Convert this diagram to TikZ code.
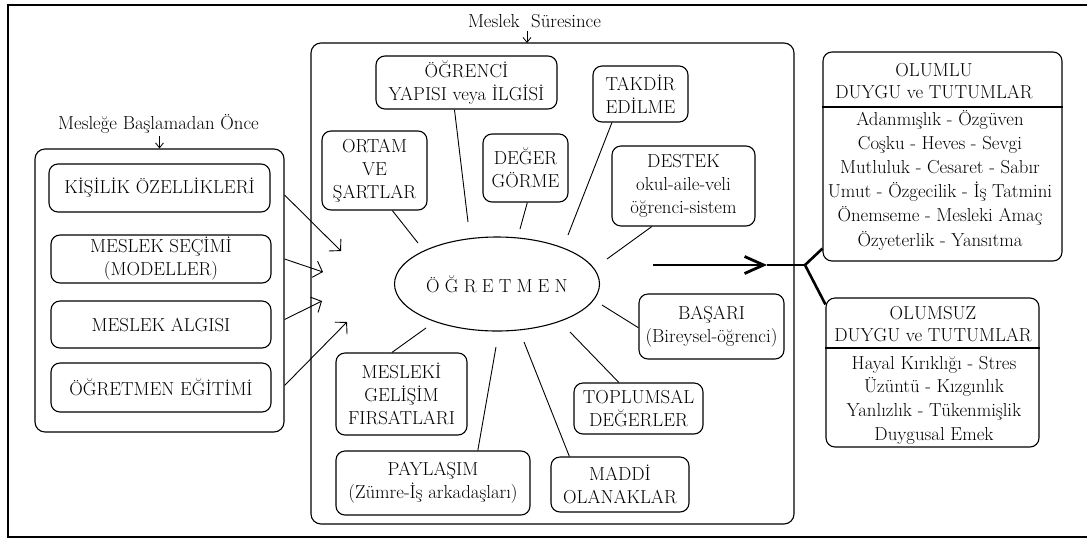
\documentclass[tikz,border=0pt]{standalone}
\usetikzlibrary{arrows.meta,calc,shapes.geometric}
\newcommand\ls{\hspace{5.2pt}}
\begin{document}
\begin{tikzpicture}[x=1pt,y=-1pt,
  every node/.style={font=\fontsize{18.8}{23}\selectfont},
  card/.style={draw,line width=1.1pt,rounded corners=9pt,align=center,inner sep=0pt},
  group/.style={draw,line width=1.1pt,rounded corners=10pt,inner sep=0pt},
  spoke/.style={line width=0.9pt},
  feed/.style={line width=0.9pt,-{Straight Barb[length=8pt,width=17pt]}},
  tag/.style={line width=0.8pt,-{Straight Barb[length=5pt,width=8pt]}},
  bigarrow/.style={line width=2.8pt,-{Straight Barb[length=19pt,width=17pt]}},
  fork/.style={line width=2.6pt},
  rule/.style={line width=1.1pt}]
\useasboundingbox (0,0) rectangle (1087,539);

% outer frame
\draw[line width=2.2pt] (1095,5) -- (8,5) -- (8,537) -- (1095,537);

% --- before the profession ---
\node[anchor=base] (lblA) at (158.5,129) {Mesleğe Başlamadan Önce};
\node[group,minimum width=249pt,minimum height=283pt] (lg) at (159.5,290.5) {};
\node[card,minimum width=221pt,minimum height=48pt] (k1) at (159.5,188) {KİŞİLİK ÖZELLİKLERİ};
\node[card,minimum width=220pt,minimum height=48pt] (k2) at (161,259) {MESLEK SEÇİMİ\\(MODELLER)};
\node[card,minimum width=220pt,minimum height=47pt] (k3) at (161,324.5) {MESLEK ALGISI};
\node[card,minimum width=220pt,minimum height=49pt] (k4) at (161,387.5) {ÖĞRETMEN EĞİTİMİ};
\draw[tag] (lblA.south -| lg.north) -- (lg.north);

% --- during the profession ---
\node[anchor=base] (lblB) at (534.5,27) {Meslek\ \ Süresince};
\node[group,minimum width=483pt,minimum height=481pt] (cg) at (552.5,283.5) {};
\coordinate (cgin) at (527,43);
\draw[tag] (lblB.south -| cgin) -- (cgin);

\node[draw,ellipse,line width=1.1pt,minimum width=205pt,minimum height=94pt,inner sep=0pt] (og) at (497,284)
  {Ö\ls Ğ\ls R\ls E\ls T\ls M\ls E\ls N};

\node[card,minimum width=181pt,minimum height=53pt] (ogr) at (466.5,82.5) {ÖĞRENCİ\\YAPISI veya İLGİSİ};
\node[card,minimum width=95pt,minimum height=56pt] (tak) at (640.5,94) {TAKDİR\\EDİLME};
\node[card,minimum width=105pt,minimum height=79pt] (ort) at (374.5,170.5) {ORTAM\\VE\\ŞARTLAR};
\node[card,minimum width=85pt,minimum height=68pt] (deg) at (525.5,168) {DEĞER\\GÖRME};
\node[card,minimum width=143pt,minimum height=80pt] (des) at (683.5,186) {DESTEK\\okul-aile-veli\\öğrenci-sistem};
\node[card,minimum width=145pt,minimum height=65pt] (bas) at (711.5,326.5) {BAŞARI\\(Bireysel-öğrenci)};
\node[card,minimum width=129pt,minimum height=51pt] (top) at (638.5,408.5) {TOPLUMSAL\\DEĞERLER};
\node[card,minimum width=138pt,minimum height=55pt] (mad) at (620,484.5) {MADDİ\\OLANAKLAR};
\node[card,minimum width=131pt,minimum height=82pt] (mgf) at (401.5,394) {MESLEKİ\\GELİŞİM\\FIRSATLARI};
\node[card,minimum width=194pt,minimum height=64pt] (pay) at (433,483) {PAYLAŞIM\\(Zümre-İş arkadaşları)};

% spoke ends next to the teacher ellipse
\coordinate (eOgr) at (468,222);
\coordinate (eOrt) at (418,243);
\coordinate (eDeg) at (520,229);
\coordinate (eTak) at (568,235);
\coordinate (eDes) at (607,259);
\coordinate (eBas) at (602,305);
\coordinate (eTop) at (570,332);
\coordinate (eMad) at (524,342);
\coordinate (ePay) at (496,347);
\coordinate (eMgf) at (426,328);

\draw[spoke] (eOgr) -- (ogr.-114);
\draw[spoke] (eOrt) -- (ort.-66);
\draw[spoke] (eDeg) -- (deg.-87.5);
\draw[spoke] (eTak) -- (tak.-135.5);
\draw[spoke] (eDes) -- (des.-128.2);
\draw[spoke] (eBas) -- (bas.-179);
\draw[spoke] (eTop) -- (top.127.4);
\draw[spoke] (eMad) -- (mad.151.2);
\draw[spoke] (ePay) -- (pay.36.7);
\draw[spoke] (eMgf) -- (mgf.103);

% arrows from the earlier factors
\coordinate (t1) at (341,251);
\coordinate (t2) at (323,272);
\coordinate (t3) at (322,301);
\coordinate (t4) at (347,322);
\draw[feed] ($(k1.east -| lg.east)+(0,7)$) -- (t1);
\draw[feed] (k2.east -| lg.east) -- (t2);
\draw[feed] ($(k3.east -| lg.east)+(0,-5)$) -- (t3);
\draw[feed] ($(k4.east -| lg.east)+(0,-2)$) -- (t4);

% --- outcomes ---
\node[card,minimum width=239pt,minimum height=209pt] (pos) at (942.5,156.5) {};
\coordinate (posdiv) at (0,107);
\draw[rule] (pos.west |- posdiv) -- (pos.east |- posdiv);
\node[align=center,font=\fontsize{18.8}{22}\selectfont] (posh) at (934,81) {OLUMLU\\DUYGU ve TUTUMLAR};
\node[align=center,font=\fontsize{18.8}{24.2}\selectfont] (posb) at (940,180)
  {Adanmışlık - Özgüven\\Coşku - Heves - Sevgi\\Mutluluk - Cesaret - Sabır\\Umut - Özgecilik - İş Tatmini\\Önemseme - Mesleki Amaç\\Özyeterlik - Yansıtma};

\node[card,minimum width=213pt,minimum height=149pt] (neg) at (932.5,372.5) {};
\coordinate (negdiv) at (0,348);
\draw[rule] (neg.west |- negdiv) -- (neg.east |- negdiv);
\node[align=center,font=\fontsize{18.8}{22}\selectfont] (negh) at (933,324) {OLUMSUZ\\DUYGU ve TUTUMLAR};
\node[align=center,font=\fontsize{18.8}{23.7}\selectfont] (negb) at (934,400)
  {Hayal Kırıklığı - Stres\\Üzüntü - Kızgınlık\\Yanlızlık - Tükenmişlik\\Duygusal Emek};

% main outcome arrow and its fork
\coordinate (out) at (653,265);
\coordinate (tip) at (767,265);
\coordinate (split) at (805,265);
\draw[bigarrow] (out) -- (tip);
\draw[fork] (tip) -- (split);
\draw[fork] (split) -- ($(pos.south west)+(0,-13)$);
\draw[fork] (split) -- ($(neg.north west)+(0,7)$);
\end{tikzpicture}
\end{document}
